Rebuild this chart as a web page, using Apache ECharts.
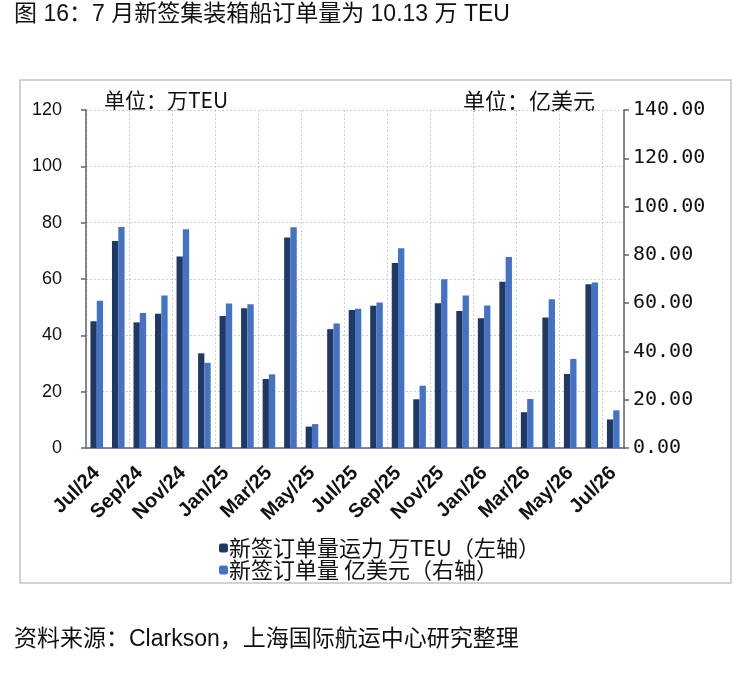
<!DOCTYPE html>
<html>
<head>
<meta charset="utf-8">
<script src="https://cdn.jsdelivr.net/npm/echarts@6/dist/echarts.min.js"></script>
<style>
  html, body { margin: 0; padding: 0; background: #fff; }
  #chartContainer { width: 738px; height: 677px; }
</style>
</head>
<body>
<div id="chartContainer"></div>
<script>
// 月份
var months = ['Jul/24', 'Aug/24', 'Sep/24', 'Oct/24', 'Nov/24', 'Dec/24',
    'Jan/25', 'Feb/25', 'Mar/25', 'Apr/25', 'May/25', 'Jun/25',
    'Jul/25', 'Aug/25', 'Sep/25', 'Oct/25', 'Nov/25', 'Dec/25',
    'Jan/26', 'Feb/26', 'Mar/26', 'Apr/26', 'May/26', 'Jun/26', 'Jul/26'];
// 新签订单量运力 万TEU（左轴）
var teu = [45, 73.5, 44.6, 47.7, 68, 33.6, 46.9, 49.6, 24.5, 74.7, 7.6, 42.2,
    49, 50.5, 65.7, 17.3, 51.4, 48.6, 46.1, 59, 12.7, 46.3, 26.3, 58.1, 10.13];
// 新签订单量 亿美元（右轴）
var usd = [61, 91.5, 55.9, 63.2, 90.6, 35.3, 59.9, 59.5, 30.5, 91.4, 9.9, 51.6,
    57.7, 60.3, 82.7, 25.8, 69.9, 63.2, 59, 79.1, 20.3, 61.6, 36.9, 68.5, 15.6];
var leftTicks = [0, 120, 20];
var rightTicks = [0, 140, 20];

var axisColor = '#5b6475';
var cjk = "'Noto Sans CJK SC', sans-serif";
var mixed = "'Liberation Sans', 'Noto Sans CJK SC', sans-serif";

var chart = echarts.init(document.getElementById('chartContainer'));
var option = {
    backgroundColor: '#fff',
    animation: false,
    grid: {left: 86, right: 114, top: 110, bottom: 229},
    graphic: [
        {
            type: 'rect',
            shape: {x: 20, y: 80, width: 711, height: 503},
            style: {fill: 'none', stroke: '#c4c4c4', lineWidth: 1.5}
        },
        {
            type: 'text', left: 14, top: 3,
            style: {text: '图 16：7 月新签集装箱船订单量为 10.13 万 TEU', fontSize: 23, fontFamily: mixed, fill: '#111'}
        },
        {
            type: 'text', left: 104, top: 90,
            style: {text: '单位：万TEU', fontSize: 21, fontFamily: cjk, fill: '#111'}
        },
        {
            type: 'text', left: 463, top: 90,
            style: {text: '单位：亿美元', fontSize: 22, fontFamily: cjk, fill: '#111'}
        },
        {
            type: 'text', left: 14, top: 628,
            style: {text: '资料来源：Clarkson，上海国际航运中心研究整理', fontSize: 23, fontFamily: mixed, fill: '#111'}
        }
    ],
    legend: {
        orient: 'vertical',
        left: 214,
        top: 532,
        itemWidth: 9,
        itemHeight: 9,
        itemGap: 0,
        textStyle: {fontSize: 22, fontFamily: cjk, color: '#111', padding: [0, 0, 0, -4]},
        data: ['新签订单量运力 万TEU（左轴）', '新签订单量 亿美元（右轴）']
    },
    xAxis: {
        type: 'category',
        data: months,
        boundaryGap: true,
        axisLine: {lineStyle: {color: axisColor, width: 1.5}},
        axisTick: {interval: 1, length: 6, lineStyle: {color: axisColor, width: 1.5}},
        splitLine: {show: true, interval: 1, lineStyle: {color: '#cfcfcf', type: [2, 2]}},
        axisLabel: {
            interval: 1, rotate: 45, margin: 22,
            fontSize: 20, fontWeight: 'bold', color: '#111',
            fontFamily: "'Liberation Sans', Arial, sans-serif"
        }
    },
    yAxis: [
        {
            type: 'value',
            min: leftTicks[0], max: leftTicks[1], interval: leftTicks[2],
            axisLine: {show: true, lineStyle: {color: axisColor, width: 1.5}},
            axisTick: {show: true, inside: false, length: 5, lineStyle: {color: axisColor, width: 1.5}},
            splitLine: {show: true, lineStyle: {color: '#cfcfcf', type: [2, 2]}},
            axisLabel: {margin: 24, fontSize: 18, color: '#111', fontFamily: "'Liberation Sans Narrow', 'Liberation Sans', sans-serif"}
        },
        {
            type: 'value',
            position: 'right',
            min: rightTicks[0], max: rightTicks[1], interval: rightTicks[2],
            axisLine: {show: true, lineStyle: {color: axisColor, width: 1.5}},
            axisTick: {show: true, length: 5, lineStyle: {color: axisColor, width: 1.5}},
            splitLine: {show: false},
            axisLabel: {
                margin: 9, fontSize: 20, color: '#111',
                fontFamily: "'DejaVu Sans Mono', monospace",
                formatter: function (v) { return v.toFixed(2); }
            }
        }
    ],
    series: [
        {
            name: '新签订单量运力 万TEU（左轴）',
            type: 'bar',
            yAxisIndex: 0,
            data: teu,
            barWidth: 6.3,
            barGap: '0%',
            itemStyle: {color: '#1F3864'}
        },
        {
            name: '新签订单量 亿美元（右轴）',
            type: 'bar',
            yAxisIndex: 1,
            data: usd,
            barWidth: 6.3,
            barGap: '0%',
            itemStyle: {color: '#4472C4'}
        }
    ]
};
chart.setOption(option);
</script>
</body>
</html>
